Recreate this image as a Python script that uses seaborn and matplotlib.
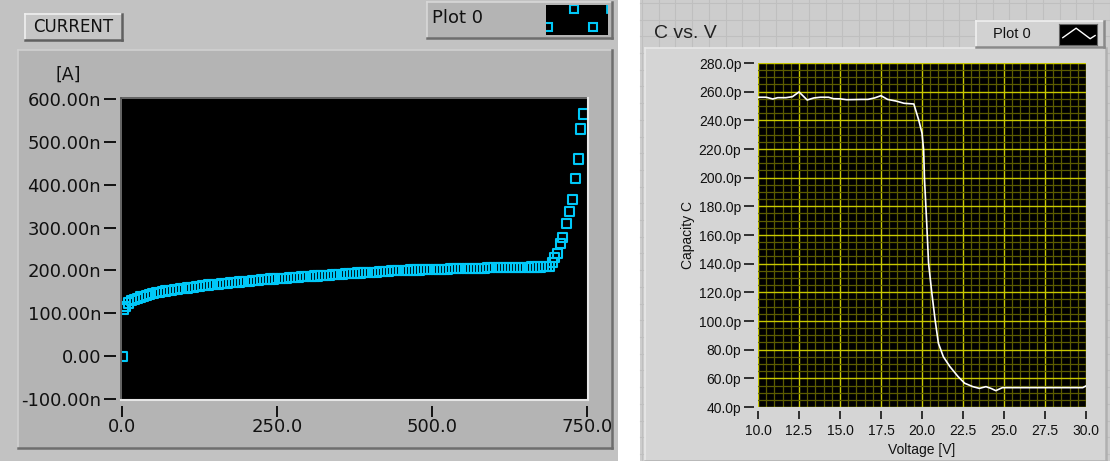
import numpy as np
import pandas as pd
import matplotlib
matplotlib.use("Agg")
import matplotlib.pyplot as plt
from matplotlib.patches import Rectangle
from matplotlib.lines import Line2D
from matplotlib.ticker import MultipleLocator
import seaborn as sns

# ---- data: left panel, current vs. bias (V, nA) ----
bias_v = [0, 3,
          5, 10, 15, 20, 25, 30, 35, 40, 45, 50, 55, 60, 65, 70, 75, 80, 85, 90, 95, 100,
          105, 110, 115, 120, 125, 130, 135, 140, 145, 150,
          155, 160, 165, 170, 175, 180, 185, 190, 195, 200, 205, 210, 215, 220, 225, 230, 235, 240, 245, 250,
          255, 260, 265, 270, 275, 280, 285, 290, 295, 300, 305, 310, 315, 320, 325, 330, 335, 340, 345, 350,
          355, 360, 365, 370, 375, 380, 385, 390, 395, 400, 405, 410, 415, 420, 425, 430, 435, 440, 445, 450,
          455, 460, 465, 470, 475, 480, 485, 490, 495, 500, 505, 510, 515, 520, 525, 530, 535, 540, 545, 550,
          555, 560, 565, 570, 575, 580, 585, 590, 595, 600, 605, 610, 615, 620, 625, 630, 635, 640, 645, 650,
          655, 660, 665, 670, 675, 680, 685, 690,
          694, 697, 702, 708, 711, 717, 721, 727, 731, 737, 740, 744]
current_na = [0, 110,
              116, 124, 129, 132, 135, 138, 140, 142, 144, 146, 148, 149, 151, 152, 153, 154, 155, 156, 157, 158,
              159, 160, 161, 162, 163, 164, 165, 166, 167, 168,
              168, 169, 170, 170, 171, 172, 172, 173, 174, 174, 175, 176, 176, 177, 178, 178, 179, 180, 180, 181,
              181, 182, 182, 183, 183, 184, 184, 185, 185, 186, 186, 187, 187, 188, 188, 189, 189, 190, 190, 191,
              191, 192, 192, 193, 193, 194, 194, 195, 195, 195, 196, 196, 197, 197, 198, 198, 199, 199, 200, 200,
              200, 200, 201, 201, 201, 201, 202, 202, 202, 202, 203, 203, 203, 203, 203, 204, 204, 204, 204, 204,
              204, 205, 205, 205, 205, 205, 205, 206, 206, 206, 206, 206, 206, 206, 207, 207, 207, 207, 207, 207,
              207, 208, 208, 208, 208, 209, 209, 210,
              219, 230, 240, 263, 277, 309, 337, 365, 414, 460, 530, 565]
cur_yticks = [-100, 0, 100, 200, 300, 400, 500, 600]
cur_ylabels = ["-100.00n", "0.00", "100.00n", "200.00n", "300.00n",
               "400.00n", "500.00n", "600.00n"]
cur_xticks = [0, 250, 500, 750]
cur_xlabels = ["0.0", "250.0", "500.0", "750.0"]

# ---- data: right panel, capacity vs. voltage (V, pF) ----
voltage = [10.0, 10.5, 10.9, 11.2, 11.7, 12.1, 12.5, 13.0, 13.4, 13.8, 14.3,
           14.6, 15.0, 15.4, 15.9, 16.3, 16.7, 17.1, 17.5, 17.9, 18.4, 18.9,
           19.5, 19.8, 20.0, 20.1, 20.15, 20.28, 20.4, 20.6, 20.8, 21.0, 21.3,
           21.7, 22.2, 22.6, 23.1, 23.5, 23.9, 24.2, 24.5, 24.9, 25.5, 26.5,
           27.5, 28.5, 29.8, 30.0]
capacity_pf = [256.1, 256.1, 254.9, 255.8, 255.8, 256.5, 259.8, 254.2, 255.6,
               256.1, 256.1, 255.1, 255.0, 254.4, 254.5, 254.6, 254.6, 255.6,
               257.2, 254.6, 253.5, 251.9, 251.4, 240.2, 231.0, 219.3, 199.5,
               170.0, 140.3, 119.4, 100.7, 84.5, 75.1, 68.2, 61.2, 56.6, 54.2,
               53.0, 54.2, 53.0, 51.4, 53.5, 53.5, 53.5, 53.5, 53.5, 53.5, 54.7]
cap_yticks = [40, 60, 80, 100, 120, 140, 160, 180, 200, 220, 240, 260, 280]
cap_ylabels = ["40.0p", "60.0p", "80.0p", "100.0p", "120.0p", "140.0p",
               "160.0p", "180.0p", "200.0p", "220.0p", "240.0p", "260.0p",
               "280.0p"]
cap_xticks = [10, 12.5, 15, 17.5, 20, 22.5, 25, 27.5, 30]
cap_xlabels = ["10.0", "12.5", "15.0", "17.5", "20.0", "22.5", "25.0",
               "27.5", "30.0"]

W, H = 1110, 461
CYAN = "#00c8f8"


def box(fig, x0, y0, x1, y1, fc, ec="none", lw=0, z=0):
    """rectangle given in pixel coords (top-left origin)"""
    r = Rectangle((x0 / W, 1 - y1 / H), (x1 - x0) / W, (y1 - y0) / H,
                  transform=fig.transFigure, facecolor=fc, edgecolor=ec,
                  linewidth=lw, zorder=z)
    fig.add_artist(r)


def hline(fig, x0, x1, y, color, lw=1.0, z=1):
    fig.add_artist(Line2D([x0 / W, x1 / W], [1 - y / H, 1 - y / H],
                          transform=fig.transFigure, color=color, lw=lw, zorder=z))


def vline(fig, x, y0, y1, color, lw=1.0, z=1):
    fig.add_artist(Line2D([x / W, x / W], [1 - y0 / H, 1 - y1 / H],
                          transform=fig.transFigure, color=color, lw=lw, zorder=z))


def bevel(fig, x0, y0, x1, y1, fc, light="#ececec", dark="#7a7a7a", z=0):
    box(fig, x0, y0, x1, y1, fc, z=z)
    hline(fig, x0, x1, y0, light, 1.2, z + 0.1)
    vline(fig, x0, y0, y1, light, 1.2, z + 0.1)
    hline(fig, x0, x1, y1, dark, 1.8, z + 0.1)
    vline(fig, x1, y0, y1, dark, 1.8, z + 0.1)


def pax(fig, x0, y0, x1, y1):
    a = fig.add_axes([x0 / W, 1 - y1 / H, (x1 - x0) / W, (y1 - y0) / H])
    a.set_zorder(10)
    return a


fig = plt.figure(figsize=(W / 100, H / 100), dpi=100)
fig.patch.set_facecolor("white")

# ================= left panel (CURRENT) =================
box(fig, 0, 0, 618, 461, "#c2c2c2")
bevel(fig, 18, 50, 612, 448, "#b4b4b4", light="#d0d0d0", dark="#6e6e6e")
bevel(fig, 25, 14, 122, 40, "#c6c6c6", light="#f0f0f0", dark="#606060")
fig.text(73.5 / W, 1 - 27 / H, "CURRENT", ha="center", va="center",
         fontsize=12, family="DejaVu Sans", color="#111111")
bevel(fig, 427, 2, 612, 38, "#b4b4b4", light="#d8d8d8", dark="#6e6e6e")
fig.text(432 / W, 1 - 18 / H, "Plot 0", ha="left", va="center",
         fontsize=13, family="DejaVu Sans", color="#111111")

# legend glyph for the cyan squares
lg = pax(fig, 546, 5, 608, 35)
lg.set_facecolor("black")
lg.set_xlim(0, 1)
lg.set_ylim(0, 1)
lg.plot([0.03, 0.45, 0.76], [0.25, 0.85, 0.25], ls="none",
        marker="s", ms=5.5, mfc="none", mec=CYAN, mew=1.5)
lg.plot([0.99, 0.99], [0.75, 1.0], color=CYAN, lw=2)
lg.set_xticks([])
lg.set_yticks([])
for s in lg.spines.values():
    s.set_visible(False)

fig.text(68 / W, 1 - 75 / H, "[A]", ha="center", va="center",
         fontsize=12.5, family="DejaVu Sans", color="#111111")

ax1 = pax(fig, 122, 99, 587, 399)
ax1.set_facecolor("black")
df_cur = pd.DataFrame({"bias": bias_v, "current": current_na})
sns.scatterplot(data=df_cur, x="bias", y="current", ax=ax1, marker="s",
                s=42, color=CYAN, linewidth=1.5, legend=False, zorder=3)
ax1.collections[0].set_facecolor("none")
ax1.collections[0].set_edgecolor(CYAN)
ax1.set_xlim(0, 750)
ax1.set_ylim(-100, 600)
ax1.set_yticks(cur_yticks)
ax1.set_yticklabels(cur_ylabels)
ax1.set_xticks(cur_xticks)
ax1.set_xticklabels(cur_xlabels)
ax1.set_xlabel("")
ax1.set_ylabel("")
ax1.spines["left"].set_position(("outward", 4))
ax1.spines["bottom"].set_position(("outward", 5))
for s in ax1.spines.values():
    s.set_visible(False)
ax1.tick_params(axis="y", length=9, width=1.4, color="#111111", pad=2,
                labelsize=13, labelcolor="#111111")
ax1.tick_params(axis="x", length=8, width=1.4, color="#111111", pad=1,
                labelsize=13, labelcolor="#111111")
# bevel edges of the plot area
hline(fig, 121, 588, 98.5, "#555555", 1.2, 15)
vline(fig, 121, 98, 400, "#555555", 1.2, 15)
hline(fig, 121, 588, 400, "#e6e6e6", 1.5, 15)
vline(fig, 588, 98, 400, "#e6e6e6", 1.5, 15)

# ================= right panel (C vs. V) =================
box(fig, 640, 0, 1110, 461, "#cdcdcd")
for gx in np.arange(642, 1110, 16.7):
    vline(fig, gx, 0, 461, "#bfbfbf", 0.8, 0.5)
for gy in np.arange(3, 461, 16.7):
    hline(fig, 640, 1110, gy, "#bfbfbf", 0.8, 0.5)
bevel(fig, 645, 48, 1106, 461, "#d5d5d5", light="#e8e8e8", dark="#b0b0b0", z=1)
fig.text(654 / W, 1 - 34 / H, "C vs. V", ha="left", va="center",
         fontsize=14, family="Liberation Sans", color="#222222", zorder=3)
bevel(fig, 976, 21, 1104, 47, "#d2d2d2", light="#f0f0f0", dark="#8a8a8a", z=2)
fig.text(993 / W, 1 - 34 / H, "Plot 0", ha="left", va="center",
         fontsize=10.5, family="Liberation Sans", color="#111111", zorder=3)
lg2 = pax(fig, 1059, 24, 1097, 45)
lg2.set_facecolor("black")
lg2.set_xlim(0, 1)
lg2.set_ylim(0, 1)
lg2.plot([0.1, 0.45, 0.82, 0.95], [0.35, 0.8, 0.3, 0.45], color="white", lw=1)
lg2.set_xticks([])
lg2.set_yticks([])
for s in lg2.spines.values():
    s.set_edgecolor("#666666")

ax2 = pax(fig, 758, 63, 1086, 407)
ax2.set_facecolor("black")
df_cap = pd.DataFrame({"voltage": voltage, "capacity": capacity_pf})
sns.lineplot(data=df_cap, x="voltage", y="capacity", ax=ax2, color="white",
             linewidth=1.2, estimator=None, sort=False, legend=False, zorder=3)
ax2.set_xlim(10, 30)
ax2.set_ylim(40, 280)
ax2.set_xticks(cap_xticks)
ax2.set_xticklabels(cap_xlabels)
ax2.set_yticks(cap_yticks)
ax2.set_yticklabels(cap_ylabels)
ax2.xaxis.set_minor_locator(MultipleLocator(0.5))
ax2.yaxis.set_minor_locator(MultipleLocator(5))
ax2.grid(which="minor", color="#5c5c00", linewidth=0.9, zorder=1)
ax2.grid(which="major", color="#c8c800", linewidth=1.0, zorder=2)
ax2.set_axisbelow(True)
ax2.spines["left"].set_position(("outward", 3))
ax2.spines["bottom"].set_position(("outward", 3))
for s in ax2.spines.values():
    s.set_visible(False)
ax2.tick_params(which="minor", length=0)
ax2.tick_params(axis="y", which="major", length=7, width=1.3, color="#222222",
                pad=2, labelsize=10, labelcolor="#111111")
ax2.tick_params(axis="x", which="major", length=6, width=1.3, color="#222222",
                pad=3, labelsize=10, labelcolor="#111111")
for lab in ax2.get_xticklabels() + ax2.get_yticklabels():
    lab.set_family("Liberation Sans")
ax2.set_xlabel("Voltage [V]", fontsize=10, family="Liberation Sans",
               color="#111111", labelpad=4)
ax2.set_ylabel("Capacity C", fontsize=10, family="Liberation Sans",
               color="#111111", labelpad=3)

fig.savefig("out.png", dpi=100, facecolor=fig.get_facecolor())
